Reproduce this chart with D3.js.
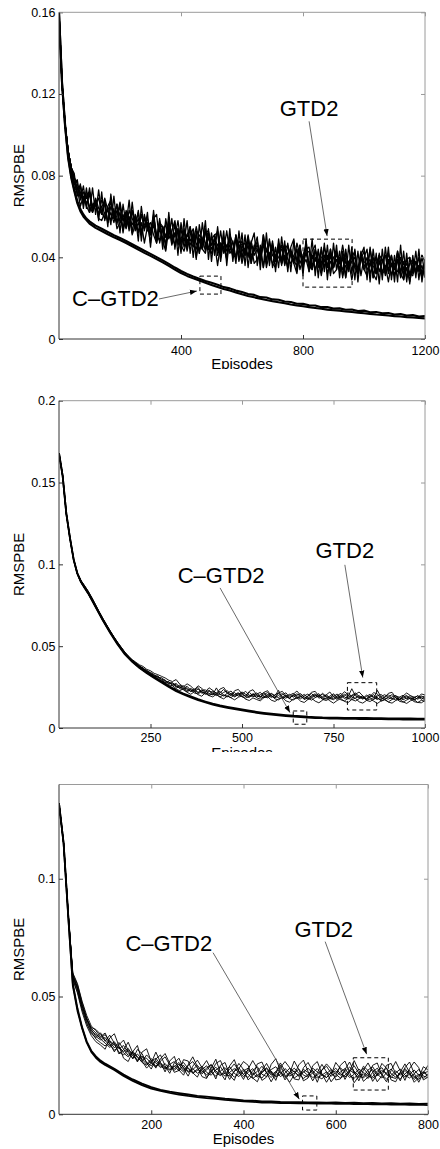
<!DOCTYPE html>
<html><head>
<meta charset="utf-8">
<title>RMSPBE - GTD2 vs C-GTD2</title>
<script src="https://cdnjs.cloudflare.com/ajax/libs/d3/7.8.5/d3.min.js"></script>
<style>
  body { margin: 0; background: #fff; }
  svg text { font-family: "Liberation Sans", Arial, Helvetica, sans-serif; fill: #000; }
  .run { fill: none; stroke: #000; stroke-linejoin: round; }
</style>
</head>
<body>
<svg id="chart" width="440" height="1149"></svg>

<script>
// ---------- data (RMSPBE values are in units of 1e-3) ----------

// top panel: 1200 episodes
const xTicksTop = [400, 800, 1200];
const yTicksTop = [0, 0.04, 0.08, 0.12, 0.16];
const yTickLabelsTop = ["0", "0.04", "0.08", "0.12", "0.16"];
const gtd2StepTop = 10;   // GTD2 runs sampled every 10 episodes
const gtd2RunsTop = [
  [160,125,105,92,84,79,76,70,72,66, 71,63,66,69,62,59,65,68,60,57, 62,54,63,59,56,60,52,61,54,57,
   51,60,51,48,53,56,49,53,58,46, 49,53,43,51,54,46,49,44,54,44, 49,51,41,47,44,53,42,44,49,38,
   46,47,40,48,41,44,38,47,44,39, 48,38,40,44,46,35,43,38,44,37, 41,46,34,41,38,43,35,41,36,44,
   35,39,33,42,39,33,42,36,34,43, 35,40,32,37,40,33,38,41,32,37, 34,42,33,38,30,37,39,33,40,32, 36],
  [160,125,105,92,84,76,74,72,66,70, 65,62,68,61,65,67,57,62,57,63, 61,53,61,56,63,53,57,51,59,55,
   51,56,47,58,49,50,55,46,52,52, 43,54,47,49,45,51,42,49,53,44, 42,49,46,40,50,43,46,41,51,39,
   44,41,46,37,46,44,39,47,35,42, 44,39,44,36,46,39,37,41,44,34, 40,42,36,34,44,35,40,41,32,38,
   35,42,34,40,30,38,40,35,32,41, 34,37,39,30,37,41,32,34,39,31, 37,38,30,35,39,32,31,38,33,36, 30],
  [160,125,105,92,84,79,74,75,68,71, 72,64,69,64,61,69,63,67,59,60, 67,58,62,54,63,57,62,53,56,59,
   53,61,49,57,55,50,58,51,50,58, 47,53,50,54,47,55,48,44,52,53, 46,48,53,43,49,45,50,40,51,45,
   48,43,51,41,43,48,40,51,43,41, 46,40,47,37,44,46,41,37,47,41, 39,44,45,35,44,39,37,45,39,42,
   35,43,37,46,37,35,40,43,34,41, 38,36,44,36,32,41,39,34,42,36, 35,43,37,32,39,40,33,38,35,41, 38],
  [160,125,105,92,84,73,74,65,70,65, 62,66,67,59,58,62,63,58,64,54, 57,59,54,60,51,56,52,57,47,55,
   57,51,47,54,48,43,54,50,46,54, 46,43,49,46,51,40,49,44,42,50, 44,47,36,47,45,39,49,41,40,46,
   37,44,41,46,37,39,44,35,44,41, 37,35,45,37,41,35,42,37,32,43, 36,39,33,41,34,39,31,39,35,41,
   32,34,40,31,36,38,29,37,32,40, 34,31,38,32,29,38,33,36,28,37, 31,39,32,29,35,28,36,32,35,30, 37],
  [160,125,105,92,84,77,71,75,67,70, 72,62,66,61,68,65,57,65,60,66, 57,61,55,63,59,55,59,51,61,53,
   53,58,49,55,55,46,57,50,52,47, 54,45,51,55,47,44,51,49,43,52, 46,49,43,53,42,46,43,48,40,48,
   46,41,49,37,44,46,41,47,38,48, 41,39,43,46,36,42,44,38,36,46, 37,42,43,34,40,37,44,35,41,32,
   40,42,37,34,42,35,38,40,32,39, 43,34,36,40,32,38,39,31,37,41, 34,33,40,34,37,31,38,33,36,32, 37],
  [160,125,105,92,84,81,70,76,64,74, 62,74,61,73,61,68,55,71,59,66, 52,66,56,68,52,61,48,65,53,62,
   45,59,61,47,55,44,62,47,57,41, 57,47,58,42,53,39,56,46,58,39, 52,41,55,42,53,36,51,47,37,53,
   39,51,35,47,52,36,46,35,52,36, 47,33,49,38,48,33,45,49,33,46, 31,48,35,49,31,44,33,47,29,44,
   35,46,30,43,30,46,32,44,28,41, 45,29,45,30,42,27,44,32,45,29, 41,28,46,29,42,27,41,30,44,28, 39],
  [160,125,105,92,84,76,78,68,75,64, 74,64,68,58,72,58,64,56,70,56, 66,52,62,53,67,54,63,48,60,56,
   47,63,48,59,44,59,50,59,44,54, 42,59,44,55,40,53,42,57,45,54, 38,51,52,38,49,39,54,38,50,41,
   52,36,50,39,45,50,34,51,37,49, 35,45,35,50,37,47,33,48,38,45, 33,49,33,43,46,30,45,33,46,31,
   47,34,43,30,44,34,45,29,43,31, 40,44,28,44,32,42,29,45,33,41, 28,43,31,43,28,40,32,43,29,41, 31]
];
const cgtd2EpisodesTop = [...d3.range(0, 100, 10), ...d3.range(100, 1201, 20)];
const cgtd2RunsTop = [
  [160,125,104,88.5,79,72.5,66.5,62.6,60,58.2,56.5, 54.4,52.9,51.3,49.8,48.5,47,45.4,43.8,42.2,40.7,
   39.1,37.5,35.8,34.0,32.3,30.9,29.7,28.6,27.5,26.5, 25.5,24.5,23.7,22.8,21.9,21.1,20.4,19.7,19.1,18.5,
   18,17.5,16.9,16.4,16,15.6,15.2,14.8,14.4,14.1, 13.8,13.5,13.2,12.9,12.6,12.3,12,11.8,11.5,11.2,
   11,10.7,10.5,10.3,10.1],
  [160,125.5,105,89.5,80,73.5,67.5,63.6,61,59,57.6, 55.5,54,52.4,50.8,49.5,48,46.4,44.8,43.2,41.7,
   40.1,38.5,36.8,35.0,33.3,31.9,30.6,29.5,28.4,27.5, 26.6,25.4,24.8,23.7,23,22,21.6,20.5,20.3,19.4,
   19.2,18.4,18.1,17.3,17.2,16.5,16.4,15.6,15.6,14.9, 15,14.3,14.4,13.7,13.9,13.1,13.2,12.6,12.7,12.0,
   12.2,11.5,11.7,11,11.2]
];

// middle panel: 1000 episodes
const xTicksMid = [250, 500, 750, 1000];
const yTicksMid = [0, 0.05, 0.1, 0.15, 0.2];
const yTickLabelsMid = ["0", "0.05", "0.1", "0.15", "0.2"];
const gtd2StepMid = 10;
const gtd2RunsMid = [
  [168,154,131,116,103,94.5,89.8,86.4,83.0,79.0, 74.8,70.6,66.6,62.8,59.0,55.4,52.0,48.9,46.0,43.5,
   41.5,39.6,38.0,36.3,35.0,33.6,32.0,31.2,30.0,28.6, 28.0,26.5,27.2,25.0,24.2,25.5,23.0,22.4,23.8,22.0,
   20.6,22.5,21.8,19.8,21.5,23.6,21.0,20.0,21.7,19.4, 20.8,22.4,20.0,19.0,20.6,21.8,19.2,20.5,18.6,20.2,
   21.4,19.0,18.2,20.0,21.2,19.1,17.8,19.6,20.8,18.5, 19.7,21.0,18.4,17.6,19.5,20.9,18.8,19.9,18.0,19.2,
   24.0,19.6,18.3,19.8,17.5,18.9,20.4,18.1,17.3,19.2, 20.3,18.0,17.2,18.8,20.0,17.9,18.6,17.0,18.4,19.6, 17.8],
  [168,154,131,116,103,94.8,90.2,87.0,83.6,79.6, 75.4,71.0,67.0,63.0,59.2,55.6,52.3,49.2,46.2,43.7,
   41.4,39.8,37.6,36.6,34.6,34.0,32.6,30.6,30.8,29.0, 27.4,27.8,25.6,24.5,25.9,23.5,22.4,24.0,21.5,22.8,
   23.4,21.0,20.2,24.5,20.6,19.5,21.3,22.6,20.0,21.2, 19.3,20.1,21.8,19.7,18.9,20.4,21.6,19.0,20.8,19.4,
   18.6,20.3,21.5,18.8,19.6,20.9,19.3,18.1,19.4,21.1, 18.7,19.5,20.6,18.9,17.8,19.2,20.8,18.3,19.7,21.6,
   19.0,18.2,19.8,17.6,19.3,20.6,18.2,23.0,18.8,17.4, 19.1,20.4,18.5,17.6,18.9,19.9,17.7,18.8,19.5,17.5, 18.9],
  [168,154,131,116,103,94.2,89.0,85.6,82.0,78.0, 74.0,69.8,65.8,62.0,58.4,54.8,51.5,48.3,45.4,43.0,
   40.8,38.6,37.2,35.4,34.2,32.4,31.4,30.2,28.6,28.0, 26.4,25.8,24.2,25.6,23.2,22.0,23.6,21.4,20.8,22.4,
   21.0,19.8,21.2,20.4,19.0,20.2,19.5,18.6,20.4,21.6, 19.0,18.2,19.6,20.8,18.5,17.6,19.3,18.4,19.9,17.8,
   17.2,18.7,20.0,17.9,17.1,18.5,19.7,17.4,18.3,17.0, 18.6,20.2,17.5,16.8,18.0,17.3,19.0,17.2,16.6,18.1,
   17.4,16.5,17.9,19.0,16.9,16.2,17.6,18.7,16.4,17.2, 16.0,17.4,18.5,16.3,15.8,17.1,18.2,16.1,15.6,16.9, 16.4],
  [168,154,131,116,103,94.6,89.5,86.0,82.6,78.6, 74.4,70.2,66.2,62.4,58.8,55.2,51.8,48.6,45.8,43.4,
   41.0,39.2,38.2,35.8,35.4,33.0,32.2,31.6,29.4,27.6, 28.4,26.0,26.6,24.0,23.6,24.6,22.2,23.0,24.8,21.2,
   22.0,23.2,20.4,21.0,22.4,20.0,18.9,21.4,19.4,20.2, 21.6,19.2,18.6,21.0,19.8,18.8,20.4,21.7,19.5,18.4,
   20.0,21.0,19.1,18.2,20.1,18.0,19.0,20.6,18.2,19.8, 20.9,18.2,19.1,20.3,18.6,17.9,19.7,21.2,18.9,17.7,
   19.6,20.7,18.6,18.0,20.1,18.4,17.5,19.6,20.5,18.3, 17.6,19.0,19.9,17.4,18.2,19.4,17.6,18.1,19.8,18.4, 17.2],
  [168,154,131,116,103,94.4,89.4,86.2,82.8,78.8, 74.6,70.4,66.4,62.6,58.9,55.3,51.9,48.8,45.9,43.3,
   41.3,39.0,37.4,36.8,34.0,33.4,31.2,31.8,29.2,29.4, 27.0,27.4,25.0,26.2,24.6,22.8,24.2,22.6,21.8,23.4,
   21.6,20.6,22.6,21.4,20.2,21.8,22.8,20.4,19.0,20.6, 22.0,20.6,19.2,20.2,21.4,19.4,18.4,20.0,21.2,19.8,
   23.0,17.8,19.4,20.6,18.8,20.0,21.0,19.0,17.6,19.2, 20.2,19.0,21.2,19.4,18.4,20.2,18.0,19.0,20.6,18.6,
   20.0,21.4,19.4,18.6,18.0,19.7,19.0,17.4,19.2,20.4, 18.6,17.8,19.6,18.8,17.2,18.4,19.8,18.9,17.6,18.9, 19.5],
  [168,154,131,116,103,94.7,90.0,86.8,83.4,79.4, 75.2,70.9,66.9,63.1,59.4,55.8,52.5,49.4,46.4,43.9,
   41.8,40.2,38.6,37.6,35.8,35.0,33.4,32.6,31.6,30.6, 29.2,28.4,29.6,26.8,25.2,27.0,25.6,23.4,25.8,24.2,
   22.2,24.6,23.0,21.2,23.8,24.8,21.6,19.8,22.8,23.6, 20.8,19.2,22.4,23.4,20.4,18.8,21.8,22.8,19.6,18.6,
   21.4,22.4,19.8,18.0,20.6,22.6,20.0,17.8,19.6,21.8, 22.4,19.4,17.6,20.2,22.0,19.0,17.4,19.8,22.2,20.4,
   18.0,20.6,22.0,19.6,17.2,19.4,21.6,20.8,17.8,18.6, 21.2,21.8,18.6,17.0,19.6,21.4,19.8,17.2,18.4,20.8, 20.2],
  [168,154,131,116,103,94.0,88.8,85.4,81.8,77.8, 73.8,69.6,65.6,61.8,58.2,54.6,51.2,48.0,45.2,42.8,
   40.6,38.4,36.6,35.0,33.6,32.0,30.8,29.4,28.0,27.2, 25.8,24.6,23.8,22.8,24.0,21.8,20.6,22.2,20.4,19.4,
   21.6,19.8,19.0,20.6,18.8,17.8,19.6,18.4,17.2,18.8, 19.6,17.6,16.8,18.4,17.4,16.6,18.6,19.2,17.0,16.2,
   17.8,18.8,16.6,15.8,17.6,18.6,16.4,15.6,17.4,18.2, 16.4,15.4,17.0,18.4,16.6,15.2,16.8,18.0,16.2,15.6,
   17.4,18.2,16.0,15.2,16.8,17.8,16.4,15.0,16.6,17.6, 15.8,15.2,16.8,17.6,16.0,15.0,16.6,17.4,15.6,15.4, 16.8]
];
const cgtd2EpisodesMid = [...d3.range(0, 100, 10), ...d3.range(100, 1001, 20)];
const cgtd2RunsMid = [
  [168,154,131,116,103,94.4,89.2,85.5,82.1,78.1,73.9, 65.6,58,51,45,40.4,36.6,33.4,30.6,27.8,25,
   22.5,20.5,18.7,17.0,15.6,14.3,13.2,12.3,11.5,10.7, 10.0,9.3,8.7,8.2,7.7,7.3,6.9,6.6,6.3,6.1,
   6.0,5.8,5.8,5.6,5.7,5.5,5.6,5.4,5.5,5.3, 5.4,5.2,5.3,5.1,5.2],
  [168,154,131,116,103,94.6,89.6,86,82.6,78.6,74.3, 66,58.5,51.6,45.6,41,37.2,34,31.2,28.4,25.6,
   23.1,21.1,19.3,17.6,16.2,14.9,13.8,12.9,12.1,11.3, 10.6,9.9,9.3,8.8,8.3,7.9,7.5,7.2,6.9,6.7,
   6.5,6.4,6.3,6.2,6.2,6.1,6.1,6.0,6.0,5.9, 5.9,5.8,5.8,5.7,5.7]
];

// bottom panel: 800 episodes
const xTicksBot = [200, 400, 600, 800];
const yTicksBot = [0, 0.05, 0.1];
const yTickLabelsBot = ["0", "0.05", "0.1"];
const gtd2StepBot = 10;
const gtd2RunsBot = [
  [132,115,85,59,54,46.5,40,35.5,33.8,32.5, 33.8,31.0,28.2,30.5,27.6,25.0,26.8,24.0,22.4,25.2,
   23.0,20.4,22.6,24.4,21.0,19.2,21.4,18.6,20.8,22.4, 19.6,17.2,18.8,21.0,17.6,16.4,18.6,20.2,17.4,16.0,
   18.4,19.6,16.8,18.2,20.4,17.6,15.6,17.8,21.8,18.4, 16.2,17.4,19.2,16.6,15.8,17.6,19.4,17.0,15.6,17.8,
   19.6,17.2,15.8,18.0,20.6,17.4,16.0,18.8,20.2,17.0, 15.4,17.6,19.2,16.8,15.0,17.2,18.6,16.0,14.8,17.4, 18.2],
  [132,115,85,58,53,45,39,35,32.0,30.4, 29.0,31.2,29.6,26.4,25.2,27.4,25.6,23.0,24.8,22.0,
   20.6,22.8,20.4,19.2,21.2,22.4,19.6,18.0,19.8,17.4, 18.6,20.4,17.8,16.6,18.8,20.2,17.2,16.2,18.2,19.8,
   16.8,15.6,18.6,20.2,17.0,16.0,18.4,15.8,17.0,19.4, 17.6,15.4,16.8,19.0,17.8,15.6,16.6,18.8,20.4,17.4,
   15.8,18.0,19.4,16.4,15.2,17.6,19.6,17.0,16.0,18.4, 19.8,16.8,15.6,17.6,19.2,16.6,15.4,17.2,19.0,16.2, 15.6],
  [132,115,85,58.5,53.5,46,40.5,36.5,34.5,32.0, 30.2,28.4,30.0,27.8,29.2,26.2,23.8,25.6,23.4,21.2,
   23.6,21.8,19.8,21.6,19.0,20.6,18.4,20.8,18.2,19.4, 17.4,19.0,20.6,17.8,16.2,18.4,19.8,17.6,15.8,17.2,
   19.2,17.0,15.2,16.6,18.0,19.8,17.2,16.4,18.0,16.0, 17.8,19.6,17.4,15.2,16.8,18.6,16.2,15.0,17.2,19.0,
   17.0,15.4,16.6,18.8,17.4,15.6,17.2,15.2,17.8,19.6, 16.8,15.0,16.6,18.4,16.6,18.6,16.8,14.8,16.4,18.2, 16.0],
  [132,115,85,59.5,55,47.5,41,36,33.0,31.6, 32.6,29.8,27.2,28.6,26.6,28.0,24.8,22.8,24.0,23.8,
   21.6,20.2,21.8,20.0,18.8,20.2,22.0,19.8,17.8,19.0, 20.8,18.4,16.8,18.2,20.0,17.8,16.2,17.8,19.4,17.8,
   16.0,17.8,19.4,16.4,15.4,17.8,19.0,20.2,17.6,15.6, 17.2,18.4,16.0,17.8,19.6,17.4,15.4,16.6,18.0,16.2,
   17.6,19.8,17.8,15.6,17.0,19.2,17.8,16.2,15.4,16.8, 18.6,17.4,15.8,15.2,17.4,19.4,17.2,15.6,17.0,15.4, 17.0],
  [132,115,85,57.5,52,44.5,38.5,34.2,32.6,34.6, 31.4,29.0,30.8,28.2,26.0,24.4,26.2,24.6,22.0,20.8,
   22.6,23.8,21.2,19.6,20.4,18.6,20.6,22.0,19.4,17.6, 19.2,17.8,19.6,21.2,18.4,16.8,17.4,19.0,21.4,18.4,
   17.0,18.8,17.4,15.8,17.6,19.4,16.6,18.2,16.0,17.4, 19.6,18.0,16.4,18.2,16.4,19.6,18.0,16.8,15.6,17.8,
   18.4,16.6,18.2,20.0,18.2,16.4,15.4,17.4,19.0,16.4, 17.8,19.6,17.2,15.8,17.6,15.8,17.0,18.8,16.6,17.8, 16.6],
  [132,115,85,60,55.5,48,42,37.5,35.5,33.0, 34.5,30.0,26.5,29.5,31.5,27.0,23.5,27.5,25.8,21.8,
   19.2,23.5,25.2,20.6,17.4,21.8,23.8,19.5,16.2,20.4, 23.0,19.8,15.6,17.8,21.6,22.8,18.4,14.8,18.2,21.6,
   19.0,14.6,16.4,21.4,22.2,17.6,13.8,17.4,20.8,16.4, 13.6,16.8,21.0,23.0,18.2,14.2,17.6,21.2,18.0,13.8,
   16.4,20.8,22.6,17.8,13.4,16.2,20.4,18.6,14.0,17.0, 21.6,19.6,14.6,13.8,18.0,21.4,17.8,13.6,15.6,20.2, 18.8],
  [132,115,85,57,51.5,43.5,37.5,33.4,30.8,29.4, 27.6,32.4,34.2,29.0,23.8,22.4,26.6,29.2,22.6,19.6,
   21.8,26.4,22.0,18.0,22.6,24.6,18.8,16.6,21.0,24.4, 20.2,16.0,15.2,19.6,23.4,17.6,14.6,20.6,23.2,18.0,
   14.8,19.2,22.8,19.4,14.4,15.8,21.2,23.6,18.6,14.6, 17.4,22.6,19.0,14.2,15.4,20.6,22.4,17.2,13.6,16.8,
   22.0,19.4,14.8,18.4,22.8,18.6,14.0,15.8,20.8,21.8, 16.6,13.8,18.6,22.4,18.4,14.4,19.4,22.2,19.8,14.6, 15.8],
  [132,115,85,58.8,53.8,46.2,40.2,36.8,36.0,34.0, 31.0,33.6,30.2,25.6,27.4,30.6,26.0,22.2,26.4,27.8,
   22.4,19.6,23.6,25.8,21.6,17.8,18.6,23.2,22.6,17.6, 15.8,20.0,22.8,19.0,15.0,20.8,22.0,16.6,14.4,19.4,
   22.4,20.8,15.4,13.8,18.6,21.6,18.0,14.4,19.8,22.4, 19.8,15.0,14.6,19.8,22.0,18.4,13.6,18.8,21.4,19.2,
   14.6,15.0,19.0,22.2,18.0,14.2,18.8,21.8,18.0,13.8, 16.4,20.8,21.6,17.2,14.2,19.8,22.2,17.4,13.6,17.6, 20.8]
];
const cgtd2EpisodesBot = [...d3.range(0, 100, 10), ...d3.range(100, 801, 20)];
const cgtd2RunsBot = [
  [132,115,84,54.5,44,36.5,30.5,26.5,24,22.2,20.9, 18.8,16.3,14.2,12.4,10.9,9.9,9.1,8.4,7.8,7.3,
   6.9,6.6,6.1,5.8,5.5,5.3,5.0,5.0,4.8,4.8, 4.6,4.7,4.5,4.6,4.4,4.5,4.3,4.4,4.2,4.3,
   4.1,4.2,4.0,4.1,3.9],
  [132,115,84.5,55.5,45,37,31,27,24.6,22.8,21.5, 19.3,16.9,14.8,13,11.5,10.4,9.6,9.0,8.4,7.8,
   7.5,7.1,6.6,6.3,5.9,5.8,5.5,5.5,5.3,5.2, 5.2,5.0,5.1,4.9,5.0,4.8,4.9,4.7,4.8,4.6,
   4.7,4.5,4.6,4.4,4.5]
];

// ---------- annotations (episode, RMSPBE) ----------
const notesTop = {
  labels: [{text: "GTD2", ep: 820, v: 0.109}, {text: "C\u2013GTD2", ep: 185, v: 0.0161}],
  arrows: [{ep1: 820, v1: 0.1066, ep2: 879, v2: 0.0504}, {ep1: 328, v1: 0.0196, ep2: 452, v2: 0.0235}],
  boxes:  [{ep0: 800, ep1: 961, v0: 0.0254, v1: 0.0489}, {ep0: 462, ep1: 531, v0: 0.022, v1: 0.0308}]
};
const notesMid = {
  labels: [{text: "GTD2", ep: 781, v: 0.104}, {text: "C\u2013GTD2", ep: 443, v: 0.0887}],
  arrows: [{ep1: 781, v1: 0.0997, ep2: 830, v2: 0.0308}, {ep1: 440, v1: 0.0856, ep2: 631, v2: 0.0094}],
  boxes:  [{ep0: 788, ep1: 868, v0: 0.011, v1: 0.0277}, {ep0: 640, ep1: 677, v0: 0.0023, v1: 0.0104}]
};
const notesBot = {
  labels: [{text: "GTD2", ep: 574, v: 0.0754}, {text: "C\u2013GTD2", ep: 238, v: 0.0693}],
  arrows: [{ep1: 577, v1: 0.0733, ep2: 667, v2: 0.0255}, {ep1: 334, v1: 0.0686, ep2: 521, v2: 0.0064}],
  boxes:  [{ep0: 638, ep1: 714, v0: 0.0103, v1: 0.024}, {ep0: 528, ep1: 559, v0: 0.0018, v1: 0.0078}]
};

// ---------- layout ----------
const panels = [
  {left: 59, right: 425, top: 12.3, bottom: 339, xMax: 1200, yMax: 0.16,
   xTicks: xTicksTop, yTicks: yTicksTop, yLabels: yTickLabelsTop,
   gtd2: gtd2RunsTop, step: gtd2StepTop, cEp: cgtd2EpisodesTop, cRuns: cgtd2RunsTop,
   gtd2Width: 1.3, cWidth: 2.1,
   notes: notesTop, xPad: 7.5, titleY: 368.5, cropY: 369},
  {left: 59, right: 425, top: 400.7, bottom: 728, xMax: 1000, yMax: 0.2,
   xTicks: xTicksMid, yTicks: yTicksMid, yLabels: yTickLabelsMid,
   gtd2: gtd2RunsMid, step: gtd2StepMid, cEp: cgtd2EpisodesMid, cRuns: cgtd2RunsMid,
   gtd2Width: 0.9, cWidth: 1.8,
   notes: notesMid, xPad: 4.8, titleY: 757.5, cropY: 752},
  {left: 59, right: 428, top: 784.5, bottom: 1114.3, xMax: 800, yMax: 0.14,
   xTicks: xTicksBot, yTicks: yTicksBot, yLabels: yTickLabelsBot,
   gtd2: gtd2RunsBot, step: gtd2StepBot, cEp: cgtd2EpisodesBot, cRuns: cgtd2RunsBot,
   gtd2Width: 0.9, cWidth: 1.8,
   notes: notesBot, xPad: 6, titleY: 1144, cropY: 1149}
];

const svg = d3.select("#chart");
const defs = svg.append("defs");
defs.append("marker")
    .attr("id", "head")
    .attr("viewBox", "0 0 10 10")
    .attr("refX", 10).attr("refY", 5)
    .attr("markerWidth", 7).attr("markerHeight", 7)
    .attr("markerUnits", "userSpaceOnUse")
    .attr("orient", "auto")
  .append("path")
    .attr("d", "M0,1.2L10,5L0,8.8Z")
    .attr("fill", "#000");

panels.forEach((p, k) => {
  const x = d3.scaleLinear().domain([0, p.xMax]).range([p.left, p.right]);
  const y = d3.scaleLinear().domain([0, p.yMax]).range([p.bottom, p.top]);
  const g = svg.append("g");

  defs.append("clipPath").attr("id", "plot" + k)
    .append("rect")
      .attr("x", p.left).attr("y", p.top)
      .attr("width", p.right - p.left).attr("height", p.bottom - p.top);
  defs.append("clipPath").attr("id", "crop" + k)
    .append("rect")
      .attr("x", 0).attr("y", p.top - 20)
      .attr("width", 440).attr("height", p.cropY - p.top + 20);

  // curves (values stored in units of 1e-3)
  const line = d3.line().x(d => x(d[0])).y(d => y(d[1] / 1000));
  const plot = g.append("g").attr("clip-path", `url(#plot${k})`);

  plot.selectAll("path.gtd2").data(p.gtd2)
    .join("path")
      .attr("class", "run gtd2")
      .attr("stroke-width", p.gtd2Width)
      .attr("d", run => line(run.map((v, i) => [i * p.step, v])));

  plot.selectAll("path.cgtd2").data(p.cRuns)
    .join("path")
      .attr("class", "run cgtd2")
      .attr("stroke-width", p.cWidth)
      .attr("d", run => line(run.map((v, i) => [p.cEp[i], v])));

  // axes: MATLAB style, ticks pointing inward on all four sides
  const dark = "#333", light = "#9a9a9a";

  const bottomAxis = g.append("g")
      .attr("transform", `translate(0,${p.bottom})`)
      .call(d3.axisBottom(x).tickValues(p.xTicks).tickSize(-4).tickSizeOuter(0)
              .tickPadding(p.xPad).tickFormat(d3.format("d")));
  const leftAxis = g.append("g")
      .attr("transform", `translate(${p.left},0)`)
      .call(d3.axisLeft(y).tickValues(p.yTicks).tickSize(-4).tickSizeOuter(0)
              .tickPadding(3.5).tickFormat((d, i) => p.yLabels[i]));
  const topAxis = g.append("g")
      .attr("transform", `translate(0,${p.top})`)
      .call(d3.axisTop(x).tickValues(p.xTicks).tickSize(-4).tickSizeOuter(0).tickFormat(""));
  const rightAxis = g.append("g")
      .attr("transform", `translate(${p.right},0)`)
      .call(d3.axisRight(y).tickValues(p.yTicks).tickSize(-4).tickSizeOuter(0).tickFormat(""));

  [bottomAxis, leftAxis, topAxis, rightAxis].forEach(a => {
    a.select(".domain").remove();
    a.selectAll("text").attr("font-size", "12.5px")
      .attr("font-family", '"Liberation Sans", Arial, Helvetica, sans-serif').attr("fill", "#000");
  });
  bottomAxis.selectAll("line").attr("stroke", dark);
  leftAxis.selectAll("line").attr("stroke", dark);
  topAxis.selectAll("line").attr("stroke", light);
  rightAxis.selectAll("line").attr("stroke", light);

  // frame
  g.append("line").attr("x1", p.left).attr("x2", p.right).attr("y1", p.top).attr("y2", p.top)
    .attr("stroke", light);
  g.append("line").attr("x1", p.right).attr("x2", p.right).attr("y1", p.top).attr("y2", p.bottom)
    .attr("stroke", light);
  g.append("line").attr("x1", p.left).attr("x2", p.left).attr("y1", p.top).attr("y2", p.bottom)
    .attr("stroke", dark);
  g.append("line").attr("x1", p.left).attr("x2", p.right).attr("y1", p.bottom).attr("y2", p.bottom)
    .attr("stroke", dark);

  // axis titles
  g.append("text")
      .attr("transform", `translate(24,${(p.top + p.bottom) / 2}) rotate(-90)`)
      .attr("text-anchor", "middle")
      .attr("font-size", "15px")
      .text("RMSPBE");
  g.append("text")
      .attr("clip-path", `url(#crop${k})`)
      .attr("x", (p.left + p.right) / 2).attr("y", p.titleY)
      .attr("text-anchor", "middle")
      .attr("font-size", "15px")
      .text("Episodes");

  // annotations
  const n = p.notes;
  g.selectAll("rect.note").data(n.boxes)
    .join("rect")
      .attr("class", "note")
      .attr("x", d => x(d.ep0)).attr("y", d => y(d.v1))
      .attr("width", d => x(d.ep1) - x(d.ep0)).attr("height", d => y(d.v0) - y(d.v1))
      .attr("fill", "none").attr("stroke", "#000").attr("stroke-width", 1)
      .attr("stroke-dasharray", "4,3");
  g.selectAll("line.note").data(n.arrows)
    .join("line")
      .attr("class", "note")
      .attr("x1", d => x(d.ep1)).attr("y1", d => y(d.v1))
      .attr("x2", d => x(d.ep2)).attr("y2", d => y(d.v2))
      .attr("stroke", "#444").attr("stroke-width", 0.8)
      .attr("marker-end", "url(#head)");
  g.selectAll("text.note").data(n.labels)
    .join("text")
      .attr("class", "note")
      .attr("x", d => x(d.ep)).attr("y", d => y(d.v))
      .attr("text-anchor", "middle")
      .attr("font-size", "22px")
      .text(d => d.text);
});
</script>
</body>
</html>
